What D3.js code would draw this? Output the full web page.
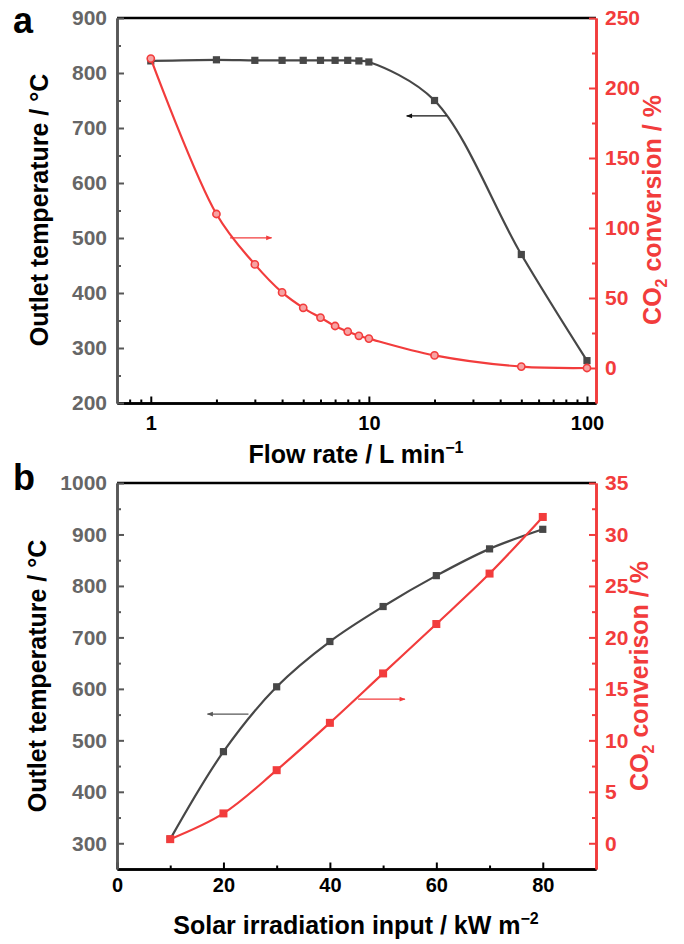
<!DOCTYPE html>
<html>
<head>
<meta charset="utf-8">
<script src="https://cdn.jsdelivr.net/npm/d3@7"></script>
<style>
  body { margin: 0; background: #fff; }
</style>
</head>
<body>
<script>
// ---- panel a : flow rate sweep
var flowRate = [1, 2, 3, 4, 5, 6, 7, 8, 9, 10, 20, 50, 100];
var flowTemp = [822, 824, 823, 823, 823, 823, 823, 823, 822, 820, 750, 470, 277];
var flowConv = [221, 110, 74, 54, 43, 36, 30, 26, 23, 21, 9, 1, 0];
var flowTicks = [1, 10, 100];
var flowMinor = [0.8, 0.9, 2, 3, 4, 5, 6, 7, 8, 9, 20, 30, 40, 50, 60, 70, 80, 90];
var tempTicksA = [200, 300, 400, 500, 600, 700, 800, 900];
var tempMinorA = [250, 350, 450, 550, 650, 750, 850];
var convTicksA = [0, 50, 100, 150, 200, 250];
var convMinorA = [25, 75, 125, 175, 225];

// ---- panel b : solar irradiation sweep
var solarInput = [10, 20, 30, 40, 50, 60, 70, 80];
var solarTemp = [308, 478, 604, 692, 760, 820, 872, 910];
var solarConv = [0.4, 2.9, 7.1, 11.7, 16.5, 21.3, 26.2, 31.7];
var solarTicks = [0, 20, 40, 60, 80];
var solarMinor = [10, 30, 50, 70];
var tempTicksB = [300, 400, 500, 600, 700, 800, 900, 1000];
var tempMinorB = [350, 450, 550, 650, 750, 850, 950];
var convTicksB = [0, 5, 10, 15, 20, 25, 30, 35];
var convMinorB = [2.5, 7.5, 12.5, 17.5, 22.5, 27.5, 32.5];

// arrows pointing at the axis each curve belongs to (data units)
var arrowsA = [
  {from: 22.7, to: 14.9, at: 722, side: "left"},
  {from: 2.31, to: 3.58, at: 93, side: "right"}
];
var arrowsB = [
  {from: 24.7, to: 17, at: 551, side: "left"},
  {from: 45.3, to: 54.1, at: 14, side: "right"}
];

var FONT = "'Liberation Sans', Arial, sans-serif";
var RED = "#f23c3c", DARK = "#474747", GREY = "#575757", LABELGREY = "#666";
var TITLE = 25;
var fmt = d3.format("d");

var svg = d3.select("body").append("svg")
    .attr("width", 684)
    .attr("height", 944)
    .attr("font-family", FONT)
    .attr("font-weight", "bold");

var defs = svg.append("defs");
function marker(id, color) {
    defs.append("marker")
        .attr("id", id)
        .attr("viewBox", "0 0 10 10")
        .attr("refX", 9).attr("refY", 5)
        .attr("markerWidth", 9).attr("markerHeight", 6)
        .attr("markerUnits", "userSpaceOnUse")
        .attr("orient", "auto")
      .append("path")
        .attr("d", "M0,1 L10,5 L0,9 Z")
        .attr("fill", color);
}
marker("headK", "#111");
marker("headG", GREY);
marker("headR", RED);

function styleAxis(g, color, labelColor, size) {
    g.attr("font-family", FONT).attr("font-size", size).attr("font-weight", "bold");
    g.select(".domain").attr("stroke", color).attr("stroke-width", 2.6);
    g.selectAll(".tick line").attr("stroke", color).attr("stroke-width", 2);
    g.selectAll(".tick text").attr("fill", labelColor);
}

function vTitle(cx, cy, color, parts) {
    var t = svg.append("text")
        .attr("transform", "translate(" + cx + "," + cy + ") rotate(-90)")
        .attr("text-anchor", "middle")
        .attr("dy", "0.35em")
        .attr("font-size", TITLE)
        .attr("fill", color);
    parts.forEach(function(p) {
        t.append("tspan").attr("font-size", p.size || TITLE).attr("dy", p.dy || 0).text(p.t);
    });
}

function hTitle(cx, y, parts) {
    var t = svg.append("text")
        .attr("x", cx).attr("y", y)
        .attr("text-anchor", "middle")
        .attr("font-size", TITLE)
        .attr("fill", "#000");
    parts.forEach(function(p) {
        t.append("tspan").attr("font-size", p.size || TITLE).attr("dy", p.dy || 0).text(p.t);
    });
}

function drawPanel(o) {
    var x = o.x, yL = o.yL, yR = o.yR;
    var left = x.range()[0], right = x.range()[1];
    var top = yL.range()[1], bottom = yL.range()[0];

    // top frame line
    svg.append("line")
        .attr("x1", left).attr("x2", right)
        .attr("y1", top).attr("y2", top)
        .attr("stroke", "#000").attr("stroke-width", 2.6);

    // minor ticks
    svg.append("g").attr("transform", "translate(0," + bottom + ")")
        .call(d3.axisBottom(x).tickValues(o.xMinor).tickSize(-3.5).tickSizeOuter(0).tickFormat(""))
        .call(styleAxis, "#000", "#000", 20);
    svg.append("g").attr("transform", "translate(" + left + ",0)")
        .call(d3.axisLeft(yL).tickValues(o.yLMinor).tickSize(-4).tickSizeOuter(0).tickFormat(""))
        .call(styleAxis, GREY, LABELGREY, 21);
    svg.append("g").attr("transform", "translate(" + right + ",0)")
        .call(d3.axisRight(yR).tickValues(o.yRMinor).tickSize(-4).tickSizeOuter(0).tickFormat(""))
        .call(styleAxis, RED, RED, 21);

    // major axes
    svg.append("g").attr("transform", "translate(0," + bottom + ")")
        .call(d3.axisBottom(x).tickValues(o.xTicks).tickSize(-6.5).tickSizeOuter(0)
              .tickPadding(o.xPad).tickFormat(fmt))
        .call(styleAxis, "#000", "#000", 20);
    svg.append("g").attr("transform", "translate(" + left + ",0)")
        .call(d3.axisLeft(yL).tickValues(o.yLTicks).tickSize(-7).tickSizeOuter(0)
              .tickPadding(10).tickFormat(fmt))
        .call(styleAxis, GREY, LABELGREY, 21);
    svg.append("g").attr("transform", "translate(" + right + ",0)")
        .call(d3.axisRight(yR).tickValues(o.yRTicks).tickSize(-7).tickSizeOuter(0)
              .tickPadding(9).tickFormat(fmt))
        .call(styleAxis, RED, RED, 21);

    var curve = d3.curveCatmullRom.alpha(0.5);
    var lineL = d3.line().curve(curve)
        .x(function(d, i) { return x(o.xs[i]); })
        .y(function(d) { return yL(d); });
    var lineR = d3.line().curve(curve)
        .x(function(d, i) { return x(o.xs[i]); })
        .y(function(d) { return yR(d); });

    // temperature series (dark)
    svg.append("path").datum(o.temp)
        .attr("d", lineL)
        .attr("fill", "none").attr("stroke", DARK).attr("stroke-width", 2.2);
    svg.append("g").selectAll("rect").data(o.temp).join("rect")
        .attr("x", function(d, i) { return x(o.xs[i]) - 3.6; })
        .attr("y", function(d) { return yL(d) - 3.6; })
        .attr("width", 7.2).attr("height", 7.2)
        .attr("fill", DARK);

    // conversion series (red)
    svg.append("path").datum(o.conv)
        .attr("d", lineR)
        .attr("fill", "none").attr("stroke", RED).attr("stroke-width", 2.2);
    if (o.circles) {
        svg.append("g").selectAll("circle").data(o.conv).join("circle")
            .attr("cx", function(d, i) { return x(o.xs[i]); })
            .attr("cy", function(d) { return yR(d); })
            .attr("r", 3.6)
            .attr("fill", "#f7a3a3")
            .attr("stroke", RED).attr("stroke-width", 1.6);
    } else {
        svg.append("g").selectAll("rect").data(o.conv).join("rect")
            .attr("x", function(d, i) { return x(o.xs[i]) - 4; })
            .attr("y", function(d) { return yR(d) - 4; })
            .attr("width", 8).attr("height", 8)
            .attr("fill", RED);
    }

    // arrows
    o.arrows.forEach(function(a) {
        var yy = a.side === "left" ? yL(a.at) : yR(a.at);
        var col = a.side === "left" ? o.leftArrow : RED;
        svg.append("line")
            .attr("x1", x(a.from)).attr("x2", x(a.to))
            .attr("y1", yy).attr("y2", yy)
            .attr("stroke", col).attr("stroke-width", 1.3)
            .attr("marker-end", "url(#" + (a.side === "left" ? o.leftHead : "headR") + ")");
    });

    // panel letter
    svg.append("text")
        .attr("x", 13).attr("y", o.letterY)
        .attr("font-size", 36)
        .attr("fill", "#000")
        .text(o.letter);
}

// ---- panel a
drawPanel({
    letter: "a", letterY: 33,
    x: d3.scaleLog().domain([0.7, 110]).range([117, 596]),
    yL: d3.scaleLinear().domain([200, 900]).range([403, 18]),
    yR: d3.scaleLinear().domain([-25, 250]).range([403, 18]),
    xs: flowRate, temp: flowTemp, conv: flowConv,
    xTicks: flowTicks, xMinor: flowMinor, xPad: 13,
    yLTicks: tempTicksA, yLMinor: tempMinorA,
    yRTicks: convTicksA, yRMinor: convMinorA,
    circles: true,
    arrows: arrowsA, leftArrow: "#111", leftHead: "headK"
});
vTitle(48, 210, "#000", [{t: "Outlet temperature / \u00B0C"}]);
vTitle(661, 210, RED, [{t: "CO"}, {t: "2", size: 16, dy: 6}, {t: " conversion / %", dy: -6}]);
hTitle(356, 463, [{t: "Flow rate / L min"}, {t: "\u22121", size: 16, dy: -10}]);

// ---- panel b
drawPanel({
    letter: "b", letterY: 490,
    x: d3.scaleLinear().domain([0, 90]).range([117, 596]),
    yL: d3.scaleLinear().domain([250, 1000]).range([869, 483]),
    yR: d3.scaleLinear().domain([-2.5, 35]).range([869, 483]),
    xs: solarInput, temp: solarTemp, conv: solarConv,
    xTicks: solarTicks, xMinor: solarMinor, xPad: 9,
    yLTicks: tempTicksB, yLMinor: tempMinorB,
    yRTicks: convTicksB, yRMinor: convMinorB,
    circles: false,
    arrows: arrowsB, leftArrow: GREY, leftHead: "headG"
});
vTitle(46, 676, "#000", [{t: "Outlet temperature / \u00B0C"}]);
vTitle(648, 676, RED, [{t: "CO"}, {t: "2", size: 16, dy: 6}, {t: " converison / %", dy: -6}]);
hTitle(356, 934, [{t: "Solar irradiation input / kW m"}, {t: "\u22122", size: 16, dy: -10}]);
</script>
</body>
</html>
